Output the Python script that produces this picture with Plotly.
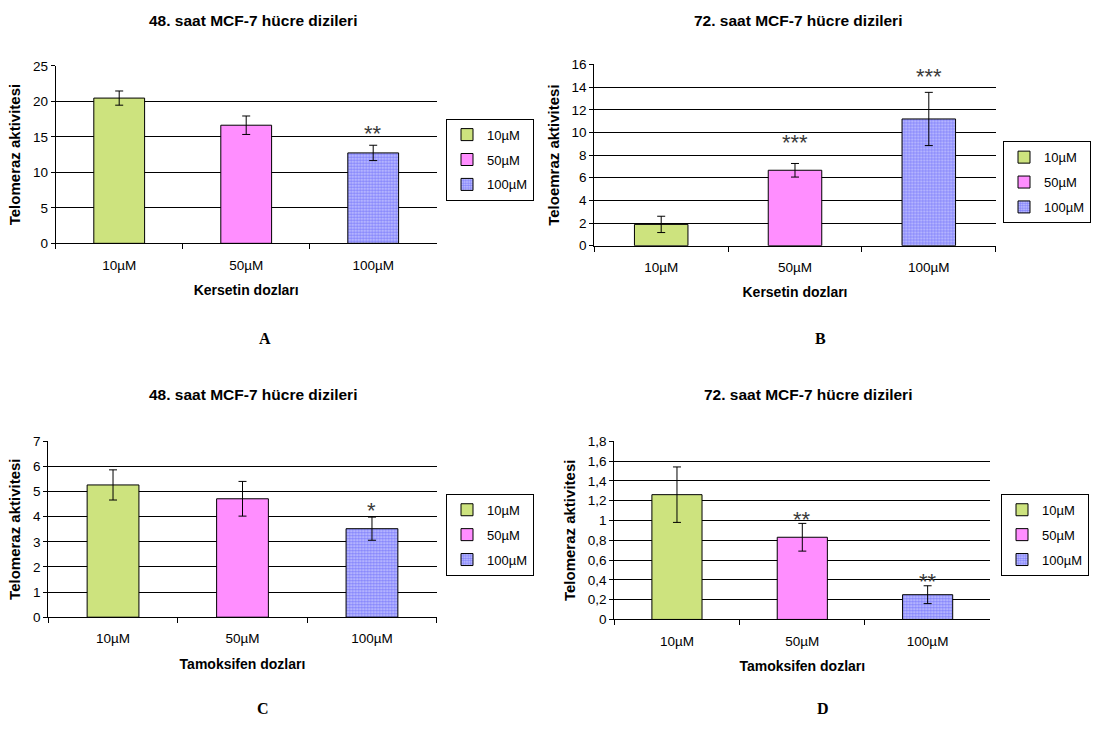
import plotly.graph_objects as go

# ---------------- data ----------------
doses = ["10µM", "50µM", "100µM"]

a_mean = [20.45, 16.63, 12.73]
a_err = [1.0, 1.3, 1.08]
a_sig = ["", "", "**"]

b_mean = [1.88, 6.66, 11.19]
b_err = [0.72, 0.6, 2.35]
b_sig = ["", "***", "***"]

c_mean = [5.26, 4.71, 3.52]
c_err = [0.6, 0.69, 0.46]
c_sig = ["", "", "*"]

d_mean = [1.26, 0.83, 0.25]
d_err = [0.28, 0.14, 0.09]
d_sig = ["", "**", "**"]

titles = ["48. saat MCF-7 hücre dizileri", "72. saat MCF-7 hücre dizileri",
          "48. saat MCF-7 hücre dizileri", "72. saat MCF-7 hücre dizileri"]
ytitles = ["Telomeraz aktivitesi", "Teloemraz aktivitesi",
           "Telomeraz aktivitesi", "Telomeraz aktivitesi"]
xtitles = ["Kersetin dozları", "Kersetin dozları",
           "Tamoksifen dozları", "Tamoksifen dozları"]
panel_letters = ["A", "B", "C", "D"]

# ---------------- layout helpers ----------------
W, H = 1093, 730
def X(px):
    return px / W
def Y(py):
    return 1 - py / H

FONT = "Liberation Sans, Arial, sans-serif"
GREEN = "#CDE37E"
PINK = "#FF8EFF"
BLUE = "#3A3AF8"

panels = [
    dict(mean=a_mean, err=a_err, sig=a_sig, sigshift=[0, 0, 19], rng=[0, 25], dtick=5,
         xdom=[55.7, 436.7], ydom=[60, 241.3], title_xy=(253, 14), leg=(446, 114),
         letter_xy=(265, 338)),
    dict(mean=b_mean, err=b_err, sig=b_sig, sigshift=[0, 28, 23], rng=[0, 16], dtick=2,
         xdom=[594.3, 995.7], ydom=[58.7, 243.7], title_xy=(798, 14), leg=(1003, 137),
         letter_xy=(820, 338)),
    dict(mean=c_mean, err=c_err, sig=c_sig, sigshift=[0, 0, 14], rng=[0, 7], dtick=1,
         xdom=[48.3, 436.7], ydom=[443.3, 623], title_xy=(253, 396), leg=(446, 497),
         letter_xy=(263, 716)),
    dict(mean=d_mean, err=d_err, sig=d_sig, sigshift=[0, 11, 11], rng=[0, 1.8], dtick=0.2,
         xdom=[614.3, 990.3], ydom=[443.3, 625.3], title_xy=(808, 396), leg=(1001, 497),
         letter_xy=(823, 716)),
]

fills = [
    dict(color=GREEN),
    dict(color=PINK),
    dict(color="#A8A8FF", pattern=dict(shape=".", fgcolor=BLUE, bgcolor="#C8C8FF",
                                       size=3, solidity=0.6)),
]

fig = go.Figure()
annotations = []

for i, p in enumerate(panels):
    n = "" if i == 0 else str(i + 1)
    legname = "legend" + n
    for j, dose in enumerate(doses):
        mk = dict(fills[j])
        mk["line"] = dict(color="black", width=1)
        fig.add_trace(go.Bar(
            x=[dose], y=[p["mean"][j]], name=dose, width=0.4,
            marker=mk,
            error_y=dict(type="data", array=[p["err"][j]], color="black",
                         thickness=1, width=4),
            xaxis="x" + n, yaxis="y" + n, legend=legname,
            legendgroup=f"g{i}{j}", showlegend=True,
        ))
        if p["sig"][j]:
            annotations.append(dict(
                x=dose, y=p["mean"][j] + p["err"][j], xref="x" + n, yref="y" + n,
                text=p["sig"][j], showarrow=False, yanchor="middle",
                yshift=p["sigshift"][j] - 7,
                font=dict(family=FONT, size=22, color="#3a3a3a")))

    fig.update_layout(**{
        "xaxis" + n: dict(
            domain=[X(p["xdom"][0]), X(p["xdom"][1])], anchor="y" + n,
            categoryorder="array", categoryarray=doses,
            showline=True, linecolor="black", linewidth=1,
            ticks="outside", tickson="boundaries", ticklen=5, tickcolor="black",
            ticklabelstandoff=9,
            tickfont=dict(family=FONT, size=13.5, color="black"),
            title=dict(text=f"<b>{xtitles[i]}</b>", standoff=13,
                       font=dict(family=FONT, size=14, color="black")),
            showgrid=False, zeroline=False, fixedrange=True,
        ),
        "yaxis" + n: dict(
            domain=[Y(p["ydom"][1]), Y(p["ydom"][0])], anchor="x" + n,
            range=p["rng"], dtick=p["dtick"], tick0=0,
            showline=True, linecolor="black", linewidth=1,
            ticks="outside", ticklen=4, tickcolor="black",
            tickfont=dict(family=FONT, size=13.5, color="black"),
            showgrid=True, gridcolor="black", gridwidth=1,
            zeroline=False,
            title=dict(text=f"<b>{ytitles[i]}</b>", standoff=8,
                       font=dict(family=FONT, size=15, color="black")),
            fixedrange=True,
        ),
        legname: dict(
            x=X(p["leg"][0]), y=Y(p["leg"][1]), xanchor="left", yanchor="top",
            bgcolor="white", bordercolor="black", borderwidth=1,
            font=dict(family=FONT, size=13, color="black"),
            itemwidth=30, traceorder="grouped", tracegroupgap=5,
        ),
    })

    annotations.append(dict(
        x=X(p["title_xy"][0]), y=Y(p["title_xy"][1]), xref="paper", yref="paper",
        text=f"<b>{titles[i]}</b>", showarrow=False, xanchor="center", yanchor="middle",
        font=dict(family=FONT, size=15.5, color="black")))
    annotations.append(dict(
        x=X(p["letter_xy"][0]), y=Y(p["letter_xy"][1]), xref="paper", yref="paper",
        text=f"<b>{panel_letters[i]}</b>", showarrow=False, xanchor="center", yanchor="middle",
        font=dict(family="Liberation Serif, Times New Roman, serif", size=16, color="black")))

fig.update_layout(
    width=W, height=H,
    margin=dict(l=0, r=0, t=0, b=0),
    paper_bgcolor="white", plot_bgcolor="white",
    barmode="overlay",
    separators=",.",
    annotations=annotations,
    font=dict(family=FONT, color="black"),
)

fig.write_html("out.html")
